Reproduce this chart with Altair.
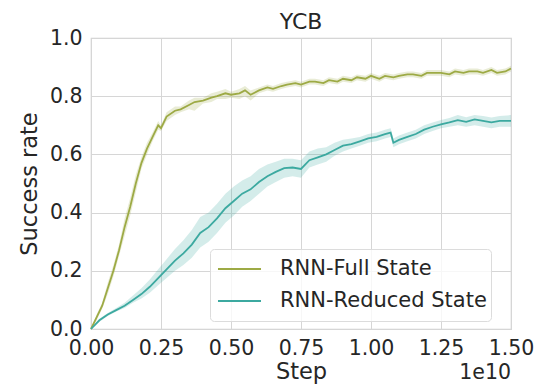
import altair as alt
import pandas as pd

# Step values in units of 1e10
full_x = [0,0.02,0.04,0.06,0.08,0.10,0.12,0.14,0.16,0.18,0.20,0.22,0.24,0.25,0.27,0.30,0.32,0.35,0.37,0.40,
          0.43,0.45,0.48,0.50,0.53,0.55,0.57,0.60,0.63,0.65,0.68,0.70,0.73,0.75,0.78,0.80,0.83,0.85,0.88,0.90,
          0.93,0.95,0.98,1.00,1.03,1.05,1.08,1.10,1.13,1.15,1.18,1.20,1.23,1.25,1.28,1.30,1.33,1.35,1.38,1.40,
          1.43,1.45,1.48,1.50]
full_mean = [0,0.04,0.08,0.14,0.20,0.27,0.35,0.42,0.50,0.57,0.62,0.66,0.70,0.69,0.73,0.75,0.755,0.77,0.78,0.785,
             0.795,0.80,0.81,0.805,0.81,0.82,0.805,0.82,0.83,0.825,0.835,0.84,0.845,0.84,0.85,0.85,0.845,0.855,0.85,0.86,
             0.855,0.865,0.86,0.87,0.86,0.87,0.865,0.87,0.875,0.875,0.87,0.88,0.88,0.88,0.875,0.885,0.88,0.885,0.885,0.88,
             0.89,0.88,0.885,0.895]
full_lo = [0,0.03,0.07,0.12,0.18,0.25,0.32,0.39,0.47,0.55,0.60,0.645,0.685,0.68,0.715,0.735,0.745,0.755,0.75,0.775,
           0.78,0.79,0.79,0.795,0.79,0.80,0.785,0.81,0.82,0.815,0.825,0.83,0.835,0.83,0.84,0.84,0.835,0.845,0.84,0.85,
           0.845,0.855,0.85,0.86,0.85,0.86,0.855,0.86,0.865,0.865,0.86,0.87,0.87,0.87,0.865,0.875,0.87,0.875,0.875,0.87,
           0.88,0.87,0.875,0.885]
full_hi = [0,0.05,0.09,0.16,0.22,0.29,0.38,0.45,0.53,0.59,0.64,0.675,0.715,0.70,0.745,0.765,0.765,0.785,0.795,0.795,
           0.81,0.815,0.825,0.815,0.825,0.835,0.82,0.83,0.84,0.835,0.845,0.85,0.855,0.85,0.86,0.86,0.855,0.865,0.86,0.87,
           0.865,0.875,0.87,0.88,0.87,0.88,0.875,0.88,0.885,0.885,0.88,0.89,0.89,0.89,0.885,0.895,0.89,0.895,0.895,0.89,
           0.90,0.89,0.895,0.905]

red_x = [0,0.03,0.06,0.09,0.12,0.15,0.18,0.21,0.24,0.27,0.30,0.33,0.36,0.39,0.42,0.45,0.48,0.51,0.54,0.57,
         0.60,0.63,0.66,0.69,0.72,0.75,0.78,0.81,0.84,0.87,0.90,0.93,0.96,0.99,1.02,1.05,1.07,1.08,1.10,
         1.13,1.16,1.19,1.22,1.25,1.28,1.31,1.34,1.37,1.40,1.43,1.46,1.50]
red_mean = [0,0.03,0.05,0.065,0.08,0.10,0.12,0.145,0.175,0.205,0.235,0.26,0.29,0.33,0.35,0.38,0.415,0.44,0.465,0.48,
            0.505,0.525,0.54,0.553,0.555,0.55,0.58,0.59,0.60,0.615,0.63,0.635,0.645,0.655,0.66,0.67,0.675,0.64,0.65,
            0.66,0.67,0.685,0.695,0.703,0.71,0.718,0.712,0.72,0.715,0.71,0.715,0.715]
red_lo = [0,0.025,0.045,0.06,0.072,0.09,0.105,0.125,0.15,0.175,0.20,0.22,0.245,0.28,0.30,0.33,0.365,0.39,0.42,0.44,
          0.465,0.49,0.505,0.52,0.525,0.52,0.555,0.565,0.575,0.595,0.61,0.62,0.63,0.64,0.645,0.655,0.66,0.625,0.635,
          0.645,0.655,0.67,0.68,0.69,0.695,0.70,0.695,0.70,0.695,0.69,0.695,0.695]
red_hi = [0,0.035,0.055,0.072,0.09,0.115,0.14,0.17,0.205,0.24,0.275,0.305,0.34,0.385,0.40,0.43,0.465,0.49,0.51,0.525,
          0.55,0.565,0.575,0.585,0.585,0.58,0.61,0.62,0.625,0.64,0.65,0.655,0.66,0.67,0.675,0.685,0.69,0.655,0.665,
          0.675,0.685,0.70,0.71,0.718,0.725,0.735,0.728,0.735,0.732,0.727,0.732,0.735]

series_names = ["RNN-Full State", "RNN-Reduced State"]
series_colors = ["#9daa45", "#3ca9a0"]
x_ticks = [0, 0.25, 0.5, 0.75, 1.0, 1.25, 1.5]
y_ticks = [0, 0.2, 0.4, 0.6, 0.8, 1.0]

df = pd.concat([
    pd.DataFrame({"step": full_x, "mean": full_mean, "lo": full_lo, "hi": full_hi,
                  "series": series_names[0], "band": "b0"}),
    pd.DataFrame({"step": red_x, "mean": red_mean, "lo": red_lo, "hi": red_hi,
                  "series": series_names[1], "band": "b1"}),
])

FONT = "DejaVu Sans"
TXT = "#262626"
TICK_FS = 20.5
LAB_FS = 22.5
xscale = alt.Scale(domain=[0, 1.5], nice=False, zero=False)
yscale = alt.Scale(domain=[0, 1.0], nice=False)

common = dict(grid=True, ticks=False, domain=False, labelFlush=False, labelFont=FONT, titleFont=FONT,
              labelColor=TXT, titleColor=TXT, titleFontWeight="normal", gridColor="#d6d6d6",
              labelFontSize=TICK_FS, titleFontSize=LAB_FS)
xaxis = alt.Axis(values=x_ticks, format=".2f", title="Step", labelPadding=9, titlePadding=2, **common)
yaxis = alt.Axis(values=y_ticks, format=".1f", title="Success rate", labelPadding=9, titlePadding=8, **common)

base = alt.Chart(df)
band = base.mark_area(opacity=0.22, interpolate="linear").encode(
    x=alt.X("step:Q", scale=xscale, axis=xaxis),
    y=alt.Y("lo:Q", scale=yscale, axis=yaxis),
    y2="hi:Q",
    fill=alt.Fill("band:N", scale=alt.Scale(domain=["b0", "b1"], range=series_colors), legend=None),
)
line = base.mark_line(strokeWidth=1.8).encode(
    x=alt.X("step:Q", scale=xscale),
    y=alt.Y("mean:Q", scale=yscale),
    stroke=alt.Stroke("series:N", scale=alt.Scale(domain=series_names, range=series_colors),
                      legend=alt.Legend(
        title=None, orient="none", legendX=119, legendY=211, symbolType="stroke",
        symbolSize=1850, symbolStrokeWidth=1.8, clipHeight=32, labelFontSize=21, labelFont=FONT,
        labelOffset=18, labelLimit=400, rowPadding=0, padding=4, symbolOffset=3,
        fillColor="rgba(255,255,255,0.8)", strokeColor="#dcdcdc", cornerRadius=4, labelColor=TXT)),
)
offset_txt = alt.Chart(pd.DataFrame({"t": ["1e10"]})).mark_text(
    align="right", baseline="middle", fontSize=TICK_FS, font=FONT, color=TXT
).encode(text="t:N", x=alt.value(420), y=alt.value(335))

chart = alt.layer(band, line, offset_txt).properties(
    width=420, height=291,
    background="white",
    title=alt.TitleParams("YCB", fontSize=22, font=FONT, color=TXT, fontWeight="normal", offset=-6),
    autosize=alt.AutoSizeParams(type="none"),
    padding={"left": 91, "top": 38, "right": 27, "bottom": 59},
).resolve_scale(fill="independent", stroke="independent").configure_view(stroke="#cfcfcf", strokeWidth=1.2)

chart.save("out.html", embed_options={"renderer": "svg", "actions": False})
